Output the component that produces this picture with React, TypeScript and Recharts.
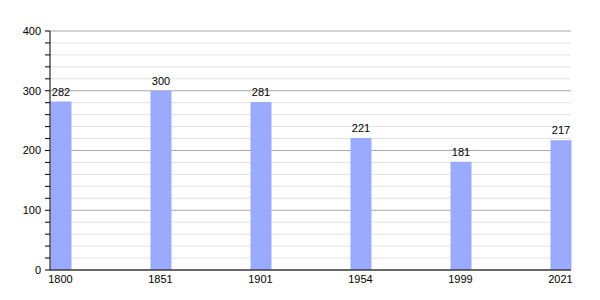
import { BarChart, Bar, XAxis, YAxis, CartesianGrid, LabelList } from 'recharts';

const years = ['1800', '1851', '1901', '1954', '1999', '2021'];
const population = [282, 300, 281, 221, 181, 217];
const yTicks = [0, 20, 40, 60, 80, 100, 120, 140, 160, 180, 200, 220, 240, 260, 280, 300, 320, 340, 360, 380, 400];
const majorTicks = [0, 100, 200, 300, 400];

export default function App() {
  const chartData = years.map((year, i) => ({ idx: i, year, value: population[i] }));
  const minorTicks = yTicks.filter((t) => !majorTicks.includes(t));

  return (
    <div style={{ fontFamily: '"Liberation Sans", Arial, sans-serif' }}>
      <BarChart
        width={592}
        height={292}
        data={chartData}
        margin={{ top: 23, right: 29, bottom: 0, left: 0 }}
      >
        <CartesianGrid vertical={false} horizontalValues={minorTicks} stroke="#e2e2e2" />
        <CartesianGrid vertical={false} horizontalValues={majorTicks} stroke="#a8a8a8" />
        <XAxis
          type="number"
          dataKey="idx"
          domain={[0, 5]}
          ticks={[0, 1, 2, 3, 4, 5]}
          tickFormatter={(i: number) => years[i]}
          padding={{ left: 10.5, right: 10.5 }}
          tickLine={false}
          tickSize={0}
          tickMargin={5}
          height={30}
          axisLine={{ stroke: '#000' }}
          tick={{ fill: '#000', fontSize: 11 }}
        />
        <YAxis
          domain={[0, 400]}
          ticks={yTicks}
          interval={0}
          tickFormatter={(v: number) => (v % 100 === 0 ? String(v) : '')}
          width={42}
          tickSize={5}
          tickMargin={4}
          axisLine={{ stroke: '#000' }}
          tickLine={{ stroke: '#000' }}
          tick={{ fill: '#000', fontSize: 11 }}
        />
        <Bar dataKey="value" fill="#99aaff" barSize={21} isAnimationActive={false}>
          <LabelList dataKey="value" position="top" offset={6} fill="#000" fontSize={11} />
        </Bar>
      </BarChart>
    </div>
  );
}
